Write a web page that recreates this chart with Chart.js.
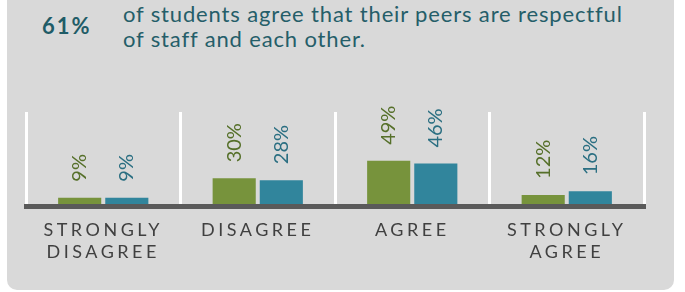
<!DOCTYPE html>
<html lang="en">
<head>
<meta charset="UTF-8">
<title>Peers respectful</title>
<script src="https://cdn.jsdelivr.net/npm/chart.js"></script>
<style>
    body { margin: 0; width: 685px; height: 292px; background: #fff; position: relative; overflow: hidden; font-family: Lato, sans-serif; }
    .painel { position: absolute; left: 7px; top: -12px; width: 667px; height: 302px; background: #d9d9d9; border-radius: 10px; }
    .numero { position: absolute; left: 42px; top: 14px; font-size: 22px; font-weight: bold; line-height: 24px; color: #1f5c67; letter-spacing: 2px; }
    .texto { position: absolute; left: 123px; top: 1px; font-size: 22px; line-height: 25px; color: #255e69; letter-spacing: 0.85px; white-space: nowrap; }
    .grafico { position: absolute; left: 0; top: 0; width: 685px; height: 292px; }
</style>
</head>
<body>
    <div class="painel"></div>
    <div class="numero">61%</div>
    <div class="texto">of students agree that their peers are respectful<br>of staff and each other.</div>
    <div class="grafico"><canvas id="myChart"></canvas></div>

<script>
    const categorias = [['STRONGLY', 'DISAGREE'], 'DISAGREE', 'AGREE', ['STRONGLY', 'AGREE']];
    const serieVerde = [9, 30, 49, 12];
    const serieAzul = [9, 28, 46, 16];

    const coresBarras = ['#77933c', '#31859c'];
    const coresRotulos = ['#56702a', '#2b6f82'];

    // rotulos verticais em cima das barras, e espacamento das letras do eixo x
    const rotulosValores = {
        id: 'rotulosValores',
        afterDatasetsDraw(chart) {
            const ctx = chart.ctx;
            ctx.save();
            ctx.letterSpacing = '0px';
            ctx.font = '20px Lato';
            ctx.textAlign = 'left';
            ctx.textBaseline = 'middle';
            chart.data.datasets.forEach((ds, i) => {
                chart.getDatasetMeta(i).data.forEach((bar, j) => {
                    ctx.save();
                    ctx.translate(bar.x, bar.y - 16);
                    ctx.rotate(-Math.PI / 2);
                    ctx.fillStyle = coresRotulos[i];
                    ctx.fillText(ds.data[j] + '%', 0, 0);
                    ctx.restore();
                });
            });
            ctx.restore();
            ctx.letterSpacing = '3.5px';
        },
        afterDraw(chart) {
            chart.ctx.letterSpacing = '0px';
        }
    };

    new Chart(document.getElementById('myChart'), {
        type: 'bar',
        data: {
            labels: categorias,
            datasets: [
                { label: 'Group A', data: serieVerde, backgroundColor: coresBarras[0], categoryPercentage: 0.61, barPercentage: 0.915 },
                { label: 'Group B', data: serieAzul, backgroundColor: coresBarras[1], categoryPercentage: 0.61, barPercentage: 0.915 }
            ]
        },
        options: {
            responsive: true,
            maintainAspectRatio: false,
            animation: false,
            layout: { padding: { left: 26, right: 41, top: 112, bottom: 0 } },
            plugins: { legend: { display: false }, tooltip: { enabled: false } },
            scales: {
                x: {
                    grid: { color: '#ffffff', lineWidth: 3, offset: true, drawTicks: false, z: -1 },
                    border: { color: '#5a5a5a', width: 5, z: 1 },
                    ticks: { z: 1, color: '#404040', font: { family: 'Lato', size: 18, lineHeight: 1.22 }, padding: 13, maxRotation: 0, autoSkip: false },
                    afterFit(s) { s.height = 86; }
                },
                y: { display: false, min: 0, max: 102 }
            }
        },
        plugins: [rotulosValores]
    });
</script>
</body>
</html>
